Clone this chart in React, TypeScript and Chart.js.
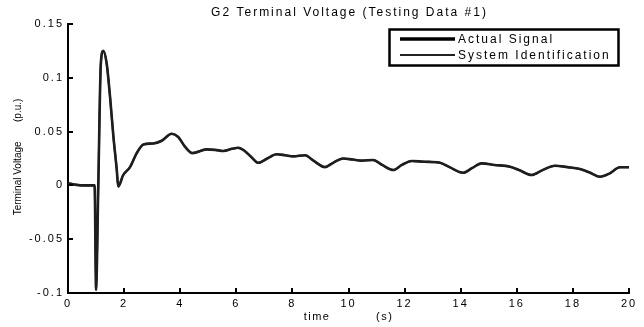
import React, { useEffect, useRef } from "react";
import { Chart, registerables } from "chart.js";

Chart.register(...registerables);

const chartTitle = "G2 Terminal Voltage (Testing Data #1)";
const xAxisLabel = "time          (s)";
const yAxisLabel = "Terminal Voltage       (p.u.)";
const seriesNames = ["Actual Signal", "System Identification"];

// time axis (s)
const timeS = [
  0, 0.3, 0.6, 0.95, 1.0, 1.08, 1.17, 1.26, 1.38, 1.5,
  1.62, 1.74, 1.79, 1.97, 2.21, 2.45, 2.69, 3.04, 3.34, 3.7,
  3.93, 4.17, 4.44, 4.94, 5.25, 5.54, 5.85, 6.07, 6.3, 6.55,
  6.78, 7.1, 7.44, 7.75, 8.03, 8.45, 8.75, 9.16, 9.45, 9.81,
  10.15, 10.47, 10.88, 11.2, 11.6, 11.9, 12.25, 12.7, 13.26, 13.6,
  14.09, 14.4, 14.75, 15.2, 15.76, 16.1, 16.53, 16.9, 17.36, 17.8,
  18.25, 18.6, 18.97, 19.3, 19.68, 20,
];

// measured terminal voltage deviation (p.u.)
const actualSignal = [
  0.002, 0.0005, 0, 0, -0.097, 0.0, 0.113, 0.125, 0.113, 0.082,
  0.045, 0.014, -0.001, 0.0097, 0.017, 0.03, 0.038, 0.039, 0.0415, 0.048,
  0.045, 0.036, 0.03, 0.0335, 0.033, 0.032, 0.034, 0.035, 0.032, 0.026,
  0.021, 0.025, 0.029, 0.028, 0.027, 0.028, 0.023, 0.017, 0.021, 0.025,
  0.024, 0.023, 0.0236, 0.019, 0.0143, 0.019, 0.0227, 0.022, 0.021, 0.017,
  0.0118, 0.016, 0.0205, 0.019, 0.0174, 0.014, 0.0097, 0.014, 0.0183, 0.017,
  0.0152, 0.012, 0.0081, 0.011, 0.0168, 0.0168,
];

// identified model output (p.u.)
const systemIdentification = [
  0.002, 0.0005, 0, 0, -0.097, 0.0, 0.113, 0.125, 0.113, 0.082,
  0.045, 0.014, -0.001, 0.0097, 0.017, 0.03, 0.038, 0.039, 0.0415, 0.048,
  0.045, 0.036, 0.03, 0.0335, 0.033, 0.032, 0.034, 0.035, 0.032, 0.026,
  0.021, 0.025, 0.029, 0.028, 0.027, 0.028, 0.023, 0.017, 0.021, 0.025,
  0.024, 0.023, 0.0236, 0.019, 0.0143, 0.019, 0.0227, 0.022, 0.021, 0.017,
  0.0118, 0.016, 0.0205, 0.019, 0.0174, 0.014, 0.0097, 0.014, 0.0183, 0.017,
  0.0152, 0.012, 0.0081, 0.011, 0.0168, 0.0168,
];

const FONT = '"Liberation Sans", Arial, Helvetica, sans-serif';

const seriesStyles = [
  { color: "#1e1e1e", width: 2.6, legendWidth: 3.5 },
  { color: "#333333", width: 2, legendWidth: 2 },
];

const decorPlugin = {
  id: "decor",
  beforeDraw(chart: any) {
    const { ctx, width, height } = chart;
    ctx.save();
    ctx.fillStyle = "#fff";
    ctx.fillRect(0, 0, width, height);
    ctx.restore();
    // widen tick labels
    ctx.letterSpacing = "2px";
  },
  afterDraw(chart: any) {
    const { ctx, chartArea, scales } = chart;
    const xs = scales.x;
    const ys = scales.y;
    ctx.save();
    ctx.strokeStyle = "#000";
    ctx.lineWidth = 2;
    // inward tick marks
    xs.ticks.forEach((t: any) => {
      const px = Math.round(xs.getPixelForValue(t.value));
      ctx.beginPath();
      ctx.moveTo(px, chartArea.bottom);
      ctx.lineTo(px, chartArea.bottom - 5);
      ctx.stroke();
    });
    ys.ticks.forEach((t: any) => {
      const py = Math.round(ys.getPixelForValue(t.value));
      ctx.beginPath();
      ctx.moveTo(chartArea.left, py);
      ctx.lineTo(chartArea.left + 5, py);
      ctx.stroke();
    });

    const cx = (chartArea.left + chartArea.right) / 2;
    ctx.fillStyle = "#000";
    ctx.textBaseline = "middle";
    ctx.textAlign = "center";

    // title
    ctx.font = `12px ${FONT}`;
    ctx.letterSpacing = "2px";
    ctx.fillText(chartTitle, cx + 1, 13);

    // x axis title
    ctx.font = `11px ${FONT}`;
    ctx.letterSpacing = "1.5px";
    ctx.fillText(xAxisLabel, cx, 317);

    // y axis title
    ctx.save();
    ctx.font = `10px ${FONT}`;
    ctx.letterSpacing = "0px";
    ctx.translate(18, 157);
    ctx.rotate(-Math.PI / 2);
    ctx.fillText(yAxisLabel, 0, 0);
    ctx.restore();

    // legend box
    const bx = 389.5, by = 29.5, bw = 229, bh = 36;
    ctx.lineWidth = 2.5;
    ctx.strokeStyle = "#000";
    ctx.strokeRect(bx, by, bw, bh);
    ctx.font = `12px ${FONT}`;
    ctx.letterSpacing = "2px";
    ctx.textAlign = "left";
    const rows = [39, 55];
    chart.data.datasets.forEach((ds: any, i: number) => {
      const st = seriesStyles[i];
      ctx.strokeStyle = i === 0 ? "#000" : "#222";
      ctx.lineWidth = st.legendWidth;
      ctx.beginPath();
      ctx.moveTo(400, rows[i]);
      ctx.lineTo(455, rows[i]);
      ctx.stroke();
      ctx.fillStyle = "#000";
      ctx.fillText(ds.label, 458, rows[i] + 0.5);
    });
    ctx.restore();
    ctx.letterSpacing = "0px";
  },
};

export default function App() {
  const canvasRef = useRef<HTMLCanvasElement | null>(null);

  useEffect(() => {
    const canvas = canvasRef.current;
    if (!canvas) return;
    const toPoints = (vals: number[]) => timeS.map((t, i) => ({ x: t, y: vals[i] }));
    const chart = new Chart(canvas, {
      type: "line",
      data: {
        datasets: [
          {
            label: seriesNames[0],
            data: toPoints(actualSignal),
            borderColor: seriesStyles[0].color,
            borderWidth: seriesStyles[0].width,
            pointRadius: 0,
            cubicInterpolationMode: "monotone",
          },
          {
            label: seriesNames[1],
            data: toPoints(systemIdentification),
            borderColor: seriesStyles[1].color,
            borderWidth: seriesStyles[1].width,
            pointRadius: 0,
            cubicInterpolationMode: "monotone",
          },
        ],
      },
      options: {
        responsive: false,
        animation: false,
        events: [],
        layout: { padding: { left: 0, right: 15, top: 24, bottom: 0 } },
        plugins: {
          legend: { display: false },
          title: { display: false },
          tooltip: { enabled: false },
        },
        scales: {
          x: {
            type: "linear",
            min: 0,
            max: 20,
            afterFit: (s: any) => {
              s.height = 34;
            },
            ticks: {
              stepSize: 2,
              padding: 4,
              color: "#000",
              maxRotation: 0,
              font: { family: FONT, size: 11 },
            },
            grid: { display: true, drawOnChartArea: false, drawTicks: false, color: "#000" },
            border: { display: true, width: 2, color: "#000" },
          },
          y: {
            type: "linear",
            min: -0.1,
            max: 0.15,
            afterFit: (s: any) => {
              s.width = 68;
            },
            ticks: {
              stepSize: 0.05,
              padding: 4,
              color: "#000",
              font: { family: FONT, size: 11 },
              callback: (v: any) => String(Number(Number(v).toFixed(2))),
            },
            grid: { display: true, drawOnChartArea: false, drawTicks: false, color: "#000" },
            border: { display: true, width: 2, color: "#000" },
          },
        },
      },
      plugins: [decorPlugin],
    });
    return () => chart.destroy();
  }, []);

  return (
    <div style={{ position: "fixed", left: 0, top: 0, width: 644, height: 327, background: "#fff" }}>
      <canvas ref={canvasRef} width={644} height={327} style={{ display: "block" }} />
    </div>
  );
}
